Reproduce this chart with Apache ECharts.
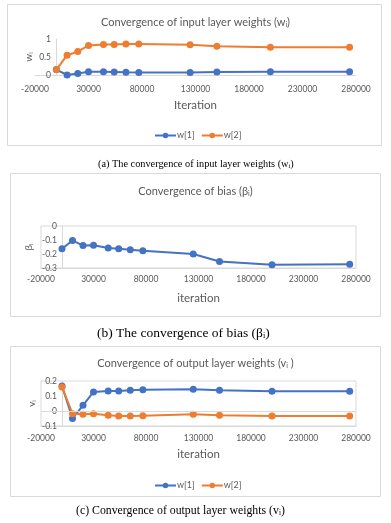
<!DOCTYPE html>
<html><head><meta charset="utf-8">
<script src="https://cdn.jsdelivr.net/npm/echarts@6/dist/echarts.min.js"></script>
<style>html,body{margin:0;padding:0;background:#fff}#c{width:391px;height:523px}</style>
</head><body><div id="c"></div>
<script>
const iterations = [0, 10000, 20000, 30000, 44000, 54000, 65000, 77000, 125000, 150000, 200000, 274000];
const inputW1 = [0.15, 0.0, 0.04, 0.09, 0.09, 0.085, 0.075, 0.07, 0.07, 0.085, 0.09, 0.09];
const inputW2 = [0.15, 0.55, 0.65, 0.82, 0.85, 0.85, 0.86, 0.86, 0.84, 0.80, 0.77, 0.77];
const bias = [-0.163, -0.103, -0.14, -0.137, -0.157, -0.163, -0.17, -0.177, -0.2, -0.254, -0.277, -0.274];
const outputW1 = [0.167, -0.05, 0.038, 0.127, 0.133, 0.133, 0.138, 0.142, 0.145, 0.138, 0.131, 0.131];
const outputW2 = [0.16, -0.018, -0.022, -0.018, -0.029, -0.033, -0.033, -0.031, -0.022, -0.029, -0.033, -0.033];
const legendNames = ['w[1]', 'w[2]'];
const xTicks = {min: -20000, max: 280000, interval: 50000};

const pairs = v => iterations.map((x, i) => [x, v[i]]);
const BLUE = '#4472C4', ORANGE = '#ED7D31', GRAY = '#595959', LINE = '#D9D9D9';
const FONT = 'Lato';

function xAxis(idx, margin, gap, name, onZero) {
  return {
    type: 'value', gridIndex: idx, min: xTicks.min, max: xTicks.max, interval: xTicks.interval,
    name: name, nameLocation: 'middle', nameGap: gap, nameMoveOverlap: false,
    nameTextStyle: {color: GRAY, fontSize: 11.5, fontFamily: FONT},
    axisLine: {show: true, onZero: onZero, lineStyle: {color: LINE}},
    axisTick: {show: false}, splitLine: {show: false},
    axisLabel: {color: GRAY, fontSize: 8.5, fontFamily: FONT, margin: margin, showMinLabel: true, showMaxLabel: true,
      formatter: v => String(v)}
  };
}
function yAxis(idx, min, max, interval, nameRich, gap) {
  return {
    type: 'value', gridIndex: idx, min: min, max: max, interval: interval,
    name: nameRich, nameLocation: 'middle', nameGap: gap, nameMoveOverlap: false,
    nameTextStyle: {color: GRAY, fontSize: 10, fontFamily: FONT,
      rich: {n: {fontSize: 10, color: GRAY, fontFamily: FONT}, s: {fontSize: 6, color: GRAY, fontFamily: FONT, verticalAlign: 'bottom'}}},
    axisLine: {show: true, onZero: true, lineStyle: {color: LINE}},
    axisTick: {show: false}, splitLine: {show: false},
    axisLabel: {color: GRAY, fontSize: 8.5, fontFamily: FONT, margin: -16}
  };
}
function line(name, data, color, xi, extra) {
  return Object.assign({
    type: 'line', name: name, data: data, xAxisIndex: xi, yAxisIndex: xi,
    symbol: 'circle', symbolSize: 7, showSymbol: true,
    itemStyle: {color: color}, lineStyle: {color: color, width: 2}, animation: false
  }, extra || {});
}
const titleRich = {t: {fontSize: 11, color: GRAY, fontFamily: FONT, fontWeight: 'normal'}, s: {fontSize: 7, color: GRAY, fontFamily: FONT, fontWeight: 'normal', verticalAlign: 'bottom'}};
const capRich = sz => ({t: {fontSize: sz, color: '#000', fontFamily: 'Liberation Serif', fontWeight: 'normal'}, s: {fontSize: sz * 0.62, color: '#000', fontFamily: 'Liberation Serif', fontWeight: 'normal', verticalAlign: 'bottom'}});
const tStyle = rich => ({fontWeight: 'normal', rich: rich});
const legendStyle = top => ({data: legendNames, top: top, left: 149, align: 'left', itemWidth: 21, itemHeight: 7, itemGap: 6,
  textStyle: {color: GRAY, fontSize: 9, fontFamily: FONT, padding: [0, 0, 0, -4]}});
const gridBase = {outerBoundsMode: 'none', containLabel: false};

const chart = echarts.init(document.getElementById('c'), null, {renderer: 'canvas'});
chart.setOption({
  animation: false,
  backgroundColor: '#fff',
  graphic: [
    {type: 'rect', shape: {x: 7.5, y: 4.5, width: 374, height: 141}, style: {fill: 'none', stroke: LINE, lineWidth: 1}},
    {type: 'rect', shape: {x: 10.5, y: 173.5, width: 370, height: 143}, style: {fill: 'none', stroke: LINE, lineWidth: 1}},
    {type: 'rect', shape: {x: 10.5, y: 346.5, width: 370, height: 150}, style: {fill: 'none', stroke: LINE, lineWidth: 1}}
  ],
  title: [
    {text: '{t|Convergence of input layer weights (w}{s|i}{t|)}', left: 'center', top: 12, textStyle: tStyle(titleRich)},
    {text: '{t|Convergence of bias (β}{s|i}{t|)}', left: 'center', top: 181, textStyle: tStyle(titleRich)},
    {text: '{t|Convergence of output layer weights (v}{s|i}{t| )}', left: 'center', top: 353, textStyle: tStyle(titleRich)},
    {text: '{t|(a) The convergence of input layer weights (w}{s|i}{t|)}', left: 93, top: 154, textStyle: tStyle(capRich(10.3))},
    {text: '{t|(b) The convergence of bias (β}{s|i}{t|)}', left: 92, top: 321, textStyle: tStyle(capRich(13.5))},
    {text: '{t|(c) Convergence of output layer weights (v}{s|i}{t|)}', left: 71, top: 500, textStyle: tStyle(capRich(11.8))}
  ],
  legend: [legendStyle(126), legendStyle(476)],
  grid: [
    Object.assign({left: 35, top: 39, width: 321, height: 36}, gridBase),
    Object.assign({left: 41, top: 226, width: 315, height: 42, show: true, borderColor: LINE, borderWidth: 1}, gridBase),
    Object.assign({left: 41, top: 381, width: 315, height: 45, show: true, borderColor: LINE, borderWidth: 1}, gridBase)
  ],
  xAxis: [
    xAxis(0, 10, 24, 'Iteration', true),
    xAxis(1, 7, 24, 'iteration', false),
    xAxis(2, 8, 22, 'iteration', false)
  ],
  yAxis: [
    yAxis(0, 0, 1, 0.5, '{n|w}{s|i}', 1),
    yAxis(1, -0.3, 0, 0.1, '{n|β}{s|i}', 7),
    yAxis(2, -0.1, 0.2, 0.1, '{n|v}{s|i}', 4)
  ],
  series: [
    line('w[1]', pairs(inputW1), BLUE, 0),
    line('w[2]', pairs(inputW2), ORANGE, 0),
    line('bias', pairs(bias), BLUE, 1),
    line('w[1]', pairs(outputW1), BLUE, 2, {
      markLine: {silent: true, symbol: ['none', 'none'], label: {show: false},
        lineStyle: {color: LINE, type: 'solid', width: 1}, data: [{yAxis: 0}]}
    }),
    line('w[2]', pairs(outputW2), ORANGE, 2)
  ]
});
</script></body></html>
